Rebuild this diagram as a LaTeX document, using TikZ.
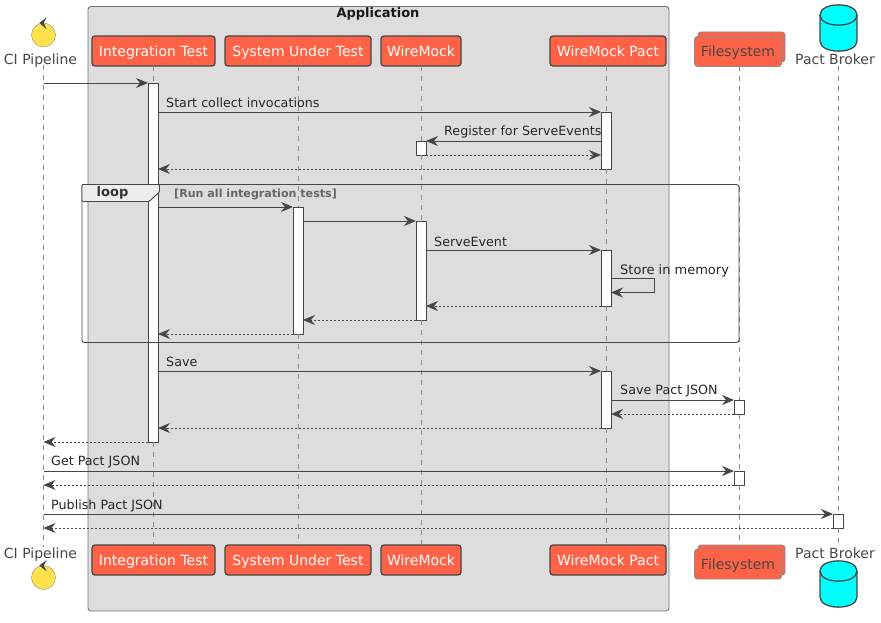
\documentclass[tikz,border=0pt]{standalone}
\usepackage{fontspec}
\setmainfont{DejaVu Sans}
\usetikzlibrary{arrows.meta}
\definecolor{inkgray}{HTML}{454645}
\definecolor{boxgray}{HTML}{DDDDDD}
\definecolor{tomatored}{HTML}{FF6347}
\definecolor{dbcyan}{HTML}{00FFFF}
\definecolor{ciyellow}{HTML}{FFE14D}
\tikzset{
  part/.style={draw=inkgray, line width=1.3pt, fill=tomatored, rounded corners=3pt,
    text=white, font=\fontsize{14}{16}\selectfont, text height=11pt, text depth=0pt,
    minimum height=30pt, inner sep=0pt, outer sep=0pt},
  stack/.style={draw=black!45, line width=.9pt, fill=tomatored, rounded corners=3pt,
    text height=11pt, text depth=0pt,
    minimum width=87pt, minimum height=30pt, inner sep=0pt, outer sep=0pt},
  caption/.style={text=inkgray, font=\fontsize{14}{16}\selectfont, text height=11pt, text depth=0pt, inner sep=0pt},
  lbl/.style={anchor=west, text=black!85, font=\fontsize{12.7}{15}\selectfont, inner sep=0pt},
  actorball/.style={circle, draw=black!45, fill=ciyellow, minimum size=24pt, inner sep=0pt},
  dbcan/.pic={
    \draw [draw=inkgray, line width=1.3pt, fill=dbcyan]
      (-18.5, -13) .. controls (-18.5, -26.5) and (18.5, -26.5) .. (18.5, -13)
      -- (18.5, 13) .. controls (18.5, 26.5) and (-18.5, 26.5) .. (-18.5, 13) -- cycle;
    \draw [draw=inkgray, line width=1.3pt]
      (-18.5, -13) .. controls (-18.5, 0.5) and (18.5, 0.5) .. (18.5, -13);
  },
  bar/.style={draw=inkgray, line width=.8pt, fill=white, minimum width=10pt, inner sep=0pt, outer sep=0pt},
  life/.style={draw=black!45, dash pattern=on 5pt off 5pt},
  msg/.style={draw=inkgray, line width=.9pt, -{Stealth[length=12pt,width=10pt,inset=4pt]}},
  ret/.style={msg, dash pattern=on 2pt off 2pt},
  notch/.style={fill=inkgray, draw=none}
}
\begin{document}
\begin{tikzpicture}[x=1pt, y=-1pt]
  \useasboundingbox (0, 0) rectangle (881, 623);

  % Application box
  \draw [draw=black!55, line width=.9pt, fill=boxgray, rounded corners=3pt] (88, 6.5) rectangle (669, 611);
  \node (appTitle) [font=\bfseries\fontsize{13}{15}\selectfont, text=black!90, inner sep=0pt] at (378, 14) {Application};

  % Top participants
  \node (ciTop) [actorball] at (43.5, 35) {};
  \fill [notch] (39.3, 23) -- (46.7, 17.3) -- (43.7, 23) -- (46.7, 29.3) -- cycle;
  \node (ciTopLabel) [caption] at (40.5, 59) {CI Pipeline};
  \node (itTop) [part, minimum width=123pt] at (153.5, 51) {Integration Test};
  \node (sutTop) [part, minimum width=146pt] at (298, 51) {System Under Test};
  \node (wmTop) [part, minimum width=80pt] at (421, 51) {WireMock};
  \node (wpTop) [part, minimum width=116pt] at (608, 51) {WireMock Pact};
  \node (fsTopBack) [stack] at (741.5, 47) {};
  \node (fsTop) [stack, text=inkgray, font=\fontsize{14}{16}\selectfont] at (738, 51.5) {Filesystem};
  \pic (pbTop) at (838.5, 28) {dbcan};
  \node (pbTopLabel) [caption] at (835, 59) {Pact Broker};

  % Bottom participants
  \node (ciBot) [actorball] at (43.5, 577.5) {};
  \fill [notch] (39.3, 565.5) -- (46.7, 560) -- (43.7, 565.5) -- (46.7, 571.5) -- cycle;
  \node (ciBotLabel) [caption] at (40.5, 553) {CI Pipeline};
  \node (itBot) [part, minimum width=123pt] at (153.5, 560) {Integration Test};
  \node (sutBot) [part, minimum width=146pt] at (298, 560) {System Under Test};
  \node (wmBot) [part, minimum width=80pt] at (421, 560) {WireMock};
  \node (wpBot) [part, minimum width=116pt] at (608, 560) {WireMock Pact};
  \node (fsBotBack) [stack] at (741.5, 560) {};
  \node (fsBot) [stack, text=inkgray, font=\fontsize{14}{16}\selectfont] at (738, 564) {Filesystem};
  \pic (pbBot) at (838.5, 584) {dbcan};
  \node (pbBotLabel) [caption] at (835, 553) {Pact Broker};

  % Activations
  \node (itBar) [bar, minimum height=359pt] at (153, 262.5) {};
  \node (wpBarA) [bar, minimum height=57pt] at (606, 140.5) {};
  \node (wmBarA) [bar, minimum height=14pt] at (421, 148) {};
  \node (sutBar) [bar, minimum height=127pt] at (298, 270.5) {};
  \node (wmBarB) [bar, minimum height=99pt] at (421, 270.5) {};
  \node (wpBarB) [bar, minimum height=56pt] at (606, 278) {};
  \node (wpBarC) [bar, minimum height=57pt] at (606, 399.5) {};
  \node (fsBarA) [bar, minimum height=14pt] at (739, 407) {};
  \node (fsBarB) [bar, minimum height=14pt] at (739, 478) {};
  \node (pbBar) [bar, minimum height=14pt] at (838, 521) {};

  % Lifelines
  \draw [life] (ciTop |- ciTopLabel.south) -- (ciTop |- ciBotLabel.north);
  \draw [life] (itTop.south -| itBar) -- (itBar.north);
  \draw [life] (itBar.south) -- (itBot.north -| itBar);
  \draw [life] (sutTop.south) -- (sutBar.north);
  \draw [life] (sutBar.south) -- (sutBot.north);
  \draw [life] (wmTop.south) -- (wmBarA.north);
  \draw [life] (wmBarA.south) -- (wmBarB.north);
  \draw [life] (wmBarB.south) -- (wmBot.north);
  \draw [life] (wpTop.south -| wpBarA) -- (wpBarA.north);
  \draw [life] (wpBarA.south) -- (wpBarB.north);
  \draw [life] (wpBarB.south) -- (wpBarC.north);
  \draw [life] (wpBarC.south) -- (wpBot.north -| wpBarC);
  \draw [life] (fsTop.south -| fsBarA) -- (fsBarA.north);
  \draw [life] (fsBarA.south) -- (fsBarB.north);
  \draw [life] (fsBarB.south) -- (fsBot.north -| fsBarB);
  \draw [life] (wpTop.south -| pbBar) -- (pbBar.north);
  \draw [life] (pbBar.south) -- (wpBot.north -| pbBar);

  % Loop frame
  \draw [draw=inkgray, line width=.9pt, rounded corners=2.5pt] (82, 184.5) rectangle (739, 342.5);
  \draw [draw=inkgray, line width=.9pt, fill=black!7, rounded corners=1pt] (82, 184.5) -- (159.5, 184.5) -- (159.5, 192)
        -- (149, 201.5) -- (82, 201.5) -- cycle;
  \node (loopTitle) [font=\bfseries\fontsize{13}{15}\selectfont, text=black!80, inner sep=0pt] at (112.5, 193) {loop};
  \node (loopGuard) [anchor=west, font=\bfseries\fontsize{11.1}{13}\selectfont, text=black!60, inner sep=0pt] at (174, 194) {[Run all integration tests]};

  % Setup messages
  \draw [msg] (ciTop |- itBar.north) -- (itBar.north west);
  \draw [msg] (itBar.east |- wpBarA.north) -- (wpBarA.north west);
  \node (startLabel) [lbl] at (166, 103) {Start collect invocations};
  \draw [msg] (wpBarA.west |- wmBarA.north) -- (wmBarA.north east);
  \node (registerLabel) [lbl] at (444, 132) {Register for ServeEvents};
  \draw [ret] (wmBarA.south east) -- (wpBarA.west |- wmBarA.south);
  \draw [ret] (wpBarA.south west) -- (itBar.east |- wpBarA.south);

  % Calls inside the loop
  \draw [msg] (itBar.east |- sutBar.north) -- (sutBar.north west);
  \draw [msg] (sutBar.east |- wmBarB.north) -- (wmBarB.north west);
  \draw [msg] (wmBarB.east |- wpBarB.north) -- (wpBarB.north west);
  \node (serveLabel) [lbl] at (434, 242) {ServeEvent};
  \coordinate (storeOut) at (654.5, 278.5);
  \coordinate (storeBack) at (654.5, 292.5);
  \draw [msg] (wpBarB.east |- storeOut) -- (storeOut) -- (storeBack) -- (wpBarB.east |- storeBack);
  \node (storeLabel) [lbl, font=\fontsize{13}{15}\selectfont] at (620, 271) {Store in memory};
  \draw [ret] (wpBarB.south west) -- (wmBarB.east |- wpBarB.south);
  \draw [ret] (wmBarB.south west) -- (sutBar.east |- wmBarB.south);
  \draw [ret] (sutBar.south west) -- (itBar.east |- sutBar.south);

  % Saving
  \draw [msg] (itBar.east |- wpBarC.north) -- (wpBarC.north west);
  \node (saveLabel) [lbl] at (166, 361.5) {Save};
  \draw [msg] (wpBarC.east |- fsBarA.north) -- (fsBarA.north west);
  \node (saveJsonLabel) [lbl] at (620, 391.5) {Save Pact JSON};
  \draw [ret] (fsBarA.south west) -- (wpBarC.east |- fsBarA.south);
  \draw [ret] (wpBarC.south west) -- (itBar.east |- wpBarC.south);
  \draw [ret] (itBar.south west) -- (ciTop |- itBar.south);

  % Publishing
  \draw [msg] (ciTop |- fsBarB.north) -- (fsBarB.north west);
  \node (getLabel) [lbl] at (51, 462.5) {Get Pact JSON};
  \draw [ret] (fsBarB.south west) -- (ciTop |- fsBarB.south);
  \draw [msg] (ciTop |- pbBar.north) -- (pbBar.north west);
  \node (publishLabel) [lbl] at (51, 505.5) {Publish Pact JSON};
  \draw [ret] (pbBar.south west) -- (ciTop |- pbBar.south);
\end{tikzpicture}
\end{document}
